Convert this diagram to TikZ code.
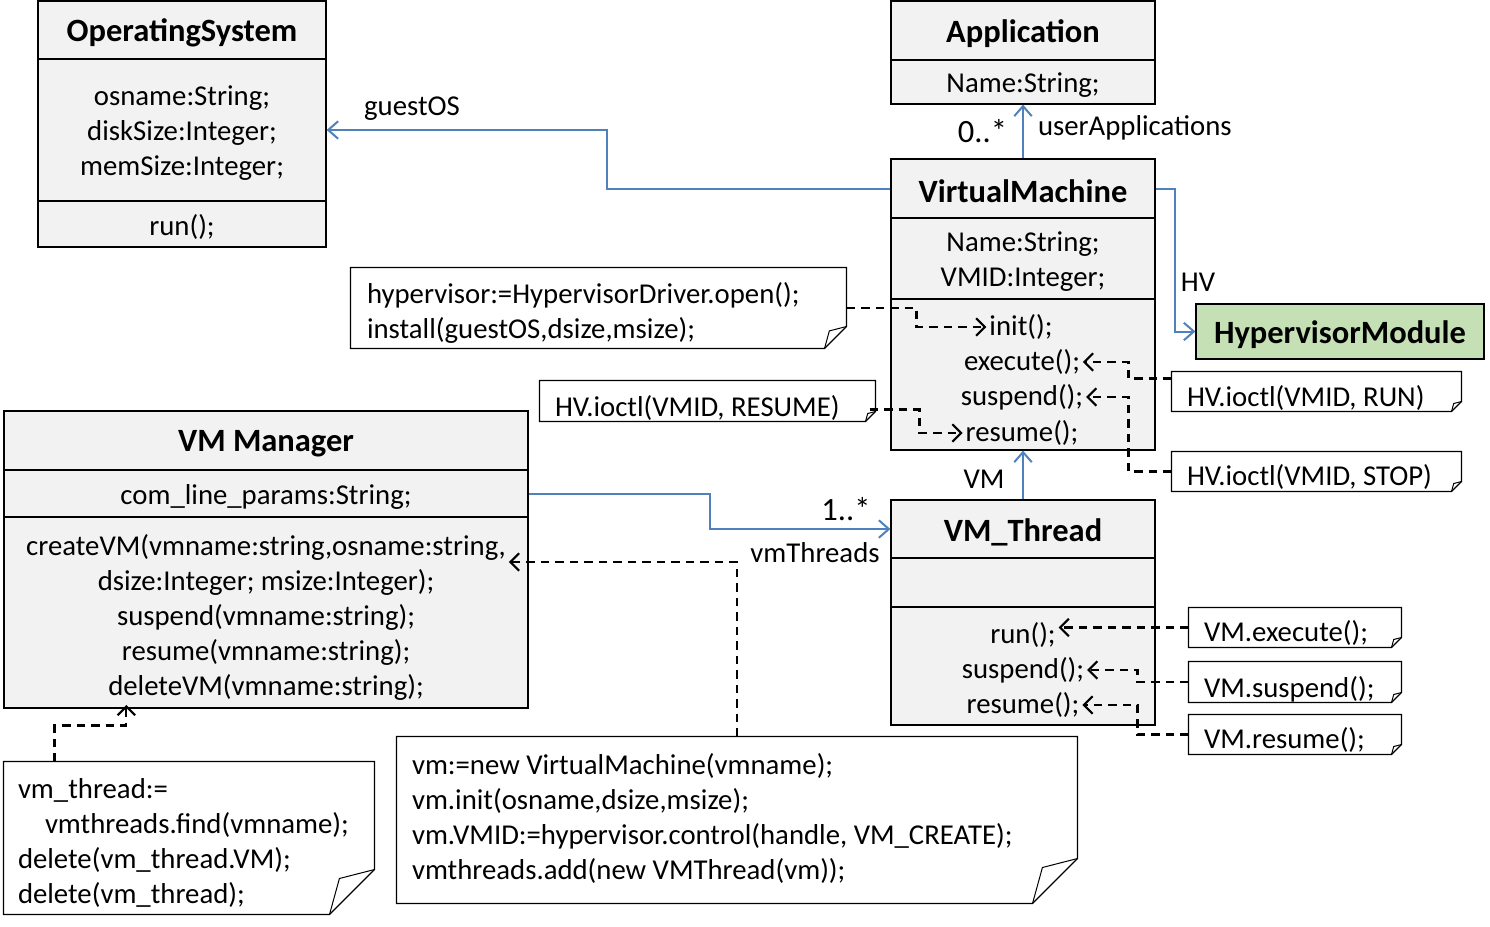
\documentclass[tikz,border=0pt]{standalone}
\usepackage{fontspec}
\setmainfont{Carlito}
\usetikzlibrary{arrows.meta}
\usetikzlibrary{calc}
\usetikzlibrary{fit}

\definecolor{umlblue}{RGB}{79,129,189}
\definecolor{umlgray}{RGB}{242,242,242}
\definecolor{umlgreen}{RGB}{197,224,180}

% note outline with folded corner: node name, fold size
\newcommand{\foldnote}[2]{%
  \draw[fill=white,line width=0.5pt] (#1.north west)--(#1.north east)--($(#1.south east)+(0,-#2)$)
    --($(#1.south east)+(-#2,0)$)--(#1.south west)--cycle;
  \draw[line width=0.4pt] ($(#1.south east)+(-#2,0)$)--($(#1.south east)+(-0.78*#2,-0.8*#2)$)--($(#1.south east)+(0,-#2)$);
}

\begin{document}
\begin{tikzpicture}[x=0.4pt,y=-0.4pt]

\tikzset{part/.style={draw=black,fill=umlgray,inner sep=0pt,line width=0.5pt}}
\tikzset{notebox/.style={inner sep=0pt}}
\tikzset{txt/.style={font=\fontsize{11.5}{14}\selectfont,inner sep=1pt,yshift=-1.2pt}}
\tikzset{mult/.style={font=\fontsize{13}{15}\selectfont,inner sep=1pt,yshift=-1.2pt}}
\tikzset{title/.style={font=\fontsize{13}{15}\selectfont\bfseries,inner sep=1pt,yshift=-1.2pt}}
\tikzset{assoc/.style={draw=umlblue,line width=0.8pt,-{Straight Barb[length=4pt,width=7pt]}}}
\tikzset{dep/.style={draw=black,line width=0.85pt,dash pattern=on 3.4pt off 2.4pt,-{Straight Barb[length=3.5pt,width=7pt]}}}

\useasboundingbox (0,0) rectangle (1490,926);

%OperatingSystem
\node[part,fit={(38,1)(326,59)}] (osT) {};
\node[part,fit={(38,59)(326,201)}] (osA) {};
\node[part,fit={(38,201)(326,247)}] (osM) {};
\node[title] (osName) at (osT) {OperatingSystem};
\node[txt,align=center] (osAttr) at (osA) {osname:String;\\diskSize:Integer;\\memSize:Integer;};
\node[txt] (osRun) at (osM) {run();};

%Application
\node[part,fit={(891,1)(1155,60)}] (appT) {};
\node[part,fit={(891,60)(1155,104)}] (appA) {};
\node[title] (appName) at (appT) {Application};
\node[txt] (appAttr) at (appA) {Name:String;};

%VirtualMachine
\node[part,fit={(891,159)(1155,218)}] (vmT) {};
\node[part,fit={(891,218)(1155,299)}] (vmA) {};
\node[part,fit={(891,299)(1155,450)}] (vmM) {};
\node[title] (vmName) at (vmT) {VirtualMachine};
\node[txt,align=center] (vmAttr) at (vmA) {Name:String;\\VMID:Integer;};
\node[txt] (vmInit) at (1021,324) {init();};
\node[txt] (vmExec) at (1022,359) {execute();};
\node[txt] (vmSusp) at (1022,394) {suspend();};
\node[txt] (vmRes) at (1022,430) {resume();};

%HypervisorModule
\node[part,fill=umlgreen,fit={(1196,304)(1484,359)}] (hm) {};
\node[title] (hmName) at (hm) {HypervisorModule};

%VM Manager
\node[part,fit={(4,411)(528,470)}] (mgrT) {};
\node[part,fit={(4,470)(528,517)}] (mgrA) {};
\node[part,fit={(4,517)(528,708)}] (mgrM) {};
\node[title] (mgrName) at (mgrT) {VM Manager};
\node[txt] (mgrAttr) at (mgrA) {com\_line\_params:String;};
\node[txt] (mgrCreate) at (266,544) {createVM(vmname:string,osname:string,};
\node[txt] (mgrCreateB) at (266,579) {dsize:Integer; msize:Integer);};
\node[txt] (mgrSusp) at (266,614) {suspend(vmname:string);};
\node[txt] (mgrRes) at (266,649) {resume(vmname:string);};
\node[txt] (mgrDel) at (266,684) {deleteVM(vmname:string);};

%VM_Thread
\node[part,fit={(891,500)(1155,558)}] (thT) {};
\node[part,fit={(891,558)(1155,607)}] (thA) {};
\node[part,fit={(891,607)(1155,725)}] (thM) {};
\node[title] (thName) at (thT) {VM\_Thread};
\node[txt] (thRun) at (1023,632) {run();};
\node[txt] (thSusp) at (1023,667) {suspend();};
\node[txt] (thRes) at (1023,702) {resume();};

%notes
\node[notebox,fit={(351,268)(846,348)}] (nOpen) {};
\foldnote{nOpen}{22}
\node[txt,anchor=west,align=left] (nOpenTxt) at (364,309.5) {hypervisor:=HypervisorDriver.open();\\install(guestOS,dsize,msize);};

\node[notebox,fit={(540,381)(875,421)}] (nResume) {};
\foldnote{nResume}{10}
\node[txt,anchor=west] (nResumeTxt) at (552,405) {HV.ioctl(VMID, RESUME)};

\node[notebox,fit={(1172,372)(1461,411)}] (nRun) {};
\foldnote{nRun}{10}
\node[txt,anchor=west] (nRunTxt) at (1184,395) {HV.ioctl(VMID, RUN)};

\node[notebox,fit={(1172,452)(1461,491)}] (nStop) {};
\foldnote{nStop}{10}
\node[txt,anchor=west] (nStopTxt) at (1184,474) {HV.ioctl(VMID, STOP)};

\node[notebox,fit={(1189,608)(1401,647)}] (nExec) {};
\foldnote{nExec}{10}
\node[txt,anchor=west] (nExecTxt) at (1201,630) {VM.execute();};

\node[notebox,fit={(1189,662)(1401,702)}] (nSusp) {};
\foldnote{nSusp}{10}
\node[txt,anchor=west] (nSuspTxt) at (1201,686) {VM.suspend();};

\node[notebox,fit={(1189,715)(1401,754)}] (nRes) {};
\foldnote{nRes}{10}
\node[txt,anchor=west] (nResTxt) at (1201,737) {VM.resume();};

\node[notebox,fit={(4,762)(374,914)}] (nDel) {};
\foldnote{nDel}{45}
\node[txt,anchor=west,align=left] (nDelTxt) at (15,839.5) {vm\_thread:=\\\hspace*{10.8pt}vmthreads.find(vmname);\\delete(vm\_thread.VM);\\delete(vm\_thread);};

\node[notebox,fit={(397,737)(1077,903)}] (nCreate) {};
\foldnote{nCreate}{45}
\node[txt,anchor=west,align=left] (nCreateTxt) at (409,815.5) {vm:=new VirtualMachine(vmname);\\vm.init(osname,dsize,msize);\\vm.VMID:=hypervisor.control(handle, VM\_CREATE);\\vmthreads.add(new VMThread(vm));};

%associations
\draw[assoc] (vmT.west) -- ++(-283,0) |- (osA.east);
\node[txt] (lblGuest) at (412,106) {guestOS};

\draw[assoc] (vmT.north) -- (appA.south);
\node[mult,anchor=east] (lblApps) at (1010,128) {0..*};
\node[txt,anchor=west] (lblUser) at (1035,125) {userApplications};

\draw[assoc] (vmT.east) -- ++(19,0) |- (hm.west);
\node[txt] (lblHV) at (1198,279) {HV};

\draw[assoc] (thT.north) -- (vmM.south);
\node[txt] (lblVM) at (984,476) {VM};

\draw[assoc] (mgrA.east) -- ++(181,0) |- (thT.west);
\node[mult] (lblThreads) at (846,506) {1..*};
\node[txt] (lblVmThreads) at (815,550) {vmThreads};

%dependencies
\draw[dep] (nOpen.east) -- ++(70,0) |- (vmInit.west);
\draw[dep] ($(nResume.south east)+(-6,-12)$) -- ++(50,0) |- (vmRes.west);
\draw[dep] ($(nRun.north west)+(0,7)$) -- ++(-43,0) |- (vmExec.east);
\draw[dep] (nStop.west) -- ++(-43,0) |- (vmSusp.east);

\draw[dep] (nExec.west) -- (nExec.west -| thRun.east);
\draw[dep] (nSusp.west) -- ++(-51,0) |- (thSusp.east);
\draw[dep] (nRes.west) -- ++(-51,0) |- (thRes.east);

\draw[dep] (nCreate.north) |- ([yshift=-6pt]mgrCreate.east);
\draw[dep] ($(nDel.north west)+(51,0)$) -- ++(0,-36) -| ($(mgrDel.south west)+(21,2)$);

\end{tikzpicture}
\end{document}
